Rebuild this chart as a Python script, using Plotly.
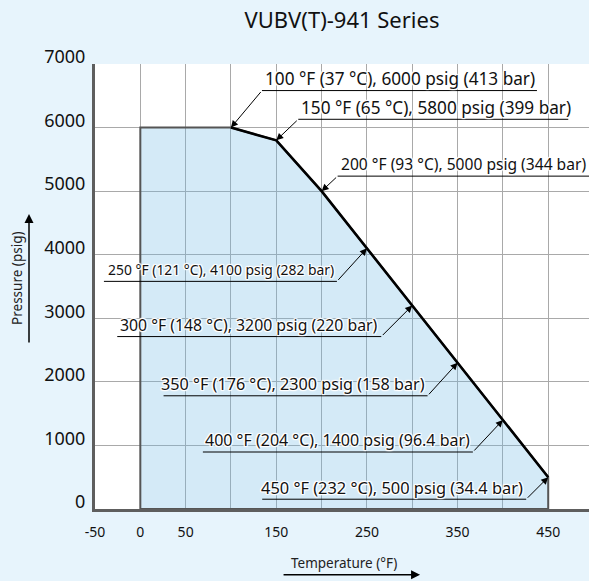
import plotly.graph_objects as go

# ---------------- data ----------------
temps_f = [100, 150, 200, 250, 300, 350, 400, 450]
temps_c = [37, 65, 93, 121, 148, 176, 204, 232]
pressures_psig = [6000, 5800, 5000, 4100, 3200, 2300, 1400, 500]
pressures_bar = ["413", "399", "344", "282", "220", "158", "96.4", "34.4"]

x_tickvals = [-50, 0, 50, 100, 150, 200, 250, 300, 350, 400, 450]
x_ticktext = ["-50", "0", "50", "", "150", "", "250", "", "350", "", "450"]
y_tickvals = [0, 1000, 2000, 3000, 4000, 5000, 6000, 7000]

title_text = "VUBV(T)-941 Series"
x_title = "Temperature (°F)"
y_title = "Pressure (psig)"

# ---------------- style ----------------
FONT = "Noto Sans"
PAPER = "#e7f4fc"
FILL = "rgba(112,185,228,0.30)"
HALO = ("1px 1px 1px #fff, -1px -1px 1px #fff, 1px -1px 1px #fff, -1px 1px 1px #fff, "
        "0 1px 1px #fff, 0 -1px 1px #fff, 1px 0 1px #fff, -1px 0 1px #fff")

# label leader layout (pixels): elbow offset from point, underline length, side, font size, family
leaders = [
    dict(dx=31, dy=-37, length=275, side="right", size=17.2, family=FONT),
    dict(dx=22, dy=-21, length=270, side="right", size=17.2, family=FONT),
    dict(dx=16, dy=-15, length=270, side="right", size=15.6, family=FONT),
    dict(dx=-30, dy=33, length=233, side="left", size=13.9, family="Liberation Sans Narrow, " + FONT),
    dict(dx=-31, dy=31, length=264, side="left", size=15.8, family=FONT),
    dict(dx=-30, dy=33, length=264, side="left", size=16.2, family=FONT),
    dict(dx=-30, dy=32, length=270, side="left", size=16, family=FONT),
    dict(dx=-22, dy=22, length=264, side="left", size=16.4, family=FONT),
]

fig = go.Figure()

# filled safe-operating region
poly_x = [0, 0] + temps_f + [temps_f[-1], 0]
poly_y = [0, pressures_psig[0]] + pressures_psig + [0, 0]
fig.add_trace(go.Scatter(x=poly_x, y=poly_y, mode="lines", fill="toself",
                         fillcolor=FILL, line=dict(color="#555555", width=2),
                         hoverinfo="skip", showlegend=False))
# black rating curve
fig.add_trace(go.Scatter(x=temps_f, y=pressures_psig, mode="lines",
                         line=dict(color="#000000", width=2.6),
                         hoverinfo="skip", showlegend=False))

annotations = []
shapes = []
for t, c, p, b, L in zip(temps_f, temps_c, pressures_psig, pressures_bar, leaders):
    label = f"{t} °F ({c} °C), {p} psig ({b} bar)"
    sign = 1 if L["side"] == "right" else -1
    # arrow from elbow to point
    annotations.append(dict(x=t, y=p, xref="x", yref="y", text="", showarrow=True,
                            ax=L["dx"], ay=L["dy"], arrowhead=2, arrowsize=1.4,
                            arrowwidth=1, arrowcolor="#000", standoff=0))
    # underline (pixel-sized shape anchored on the data point)
    shapes.append(dict(type="line", xref="x", yref="y", xsizemode="pixel", ysizemode="pixel",
                       xanchor=t, yanchor=p,
                       x0=L["dx"], x1=L["dx"] + sign * L["length"],
                       y0=-L["dy"], y1=-L["dy"],
                       line=dict(color="#000", width=1)))
    # text
    annotations.append(dict(x=t, y=p, xref="x", yref="y", text=label, showarrow=False,
                            xanchor="left" if sign == 1 else "right", yanchor="middle",
                            xshift=L["dx"] + sign * 1, yshift=-L["dy"] + 12,
                            font=dict(family=L["family"], size=L["size"], color="#111",
                                      shadow=HALO)))

# axis titles with arrows
annotations.append(dict(xref="paper", yref="paper", x=-0.157, y=0.518, text=y_title,
                        textangle=-90, showarrow=False, xanchor="center", yanchor="middle",
                        font=dict(family=FONT, size=13.5, color="#222")))
annotations.append(dict(xref="paper", yref="paper", x=-0.1336, y=0.663, text="",
                        showarrow=True, ax=0, ay=130, arrowhead=2, arrowsize=1.2,
                        arrowwidth=1.5, arrowcolor="#000", standoff=0))
annotations.append(dict(xref="paper", yref="paper", x=0.505, y=-0.1206, text=x_title,
                        showarrow=False, xanchor="center", yanchor="middle",
                        font=dict(family=FONT, size=13.5, color="#222")))
annotations.append(dict(xref="paper", yref="paper", x=0.658, y=-0.1475, text="",
                        showarrow=True, ax=-138, ay=0, arrowhead=2, arrowsize=1.2,
                        arrowwidth=1.5, arrowcolor="#000", standoff=0))

fig.update_layout(
    width=589, height=581,
    margin=dict(l=95, r=0, t=64, b=72, autoexpand=False),
    paper_bgcolor=PAPER, plot_bgcolor="#ffffff",
    title=dict(text=title_text, xref="paper", x=0.5, xanchor="center",
               yref="container", y=0.965, yanchor="middle",
               font=dict(family=FONT, size=22, color="#111")),
    annotations=annotations,
    shapes=shapes,
    showlegend=False,
)
fig.update_xaxes(range=[-50, 495], tickvals=x_tickvals, ticktext=x_ticktext,
                 automargin=False,
                 showgrid=True, gridcolor="#a9a9a9", gridwidth=1, zeroline=False,
                 showline=True, linecolor="#5e5e5e", linewidth=3, ticks="",
                 ticklabelstandoff=8,
                 tickfont=dict(family=FONT, size=14, color="#111"))
fig.update_yaxes(range=[0, 7000], tickvals=y_tickvals, automargin=False,
                 showgrid=True, gridcolor="#a9a9a9", gridwidth=1, zeroline=False,
                 showline=True, linecolor="#5e5e5e", linewidth=3, ticks="",
                 ticklabelshift=-7, ticklabelstandoff=3,
                 tickfont=dict(family=FONT, size=18, color="#111"))

fig.write_html("out.html", config={"displayModeBar": False},
               post_script="document.body.style.margin='0';document.body.style.overflow='hidden';")
